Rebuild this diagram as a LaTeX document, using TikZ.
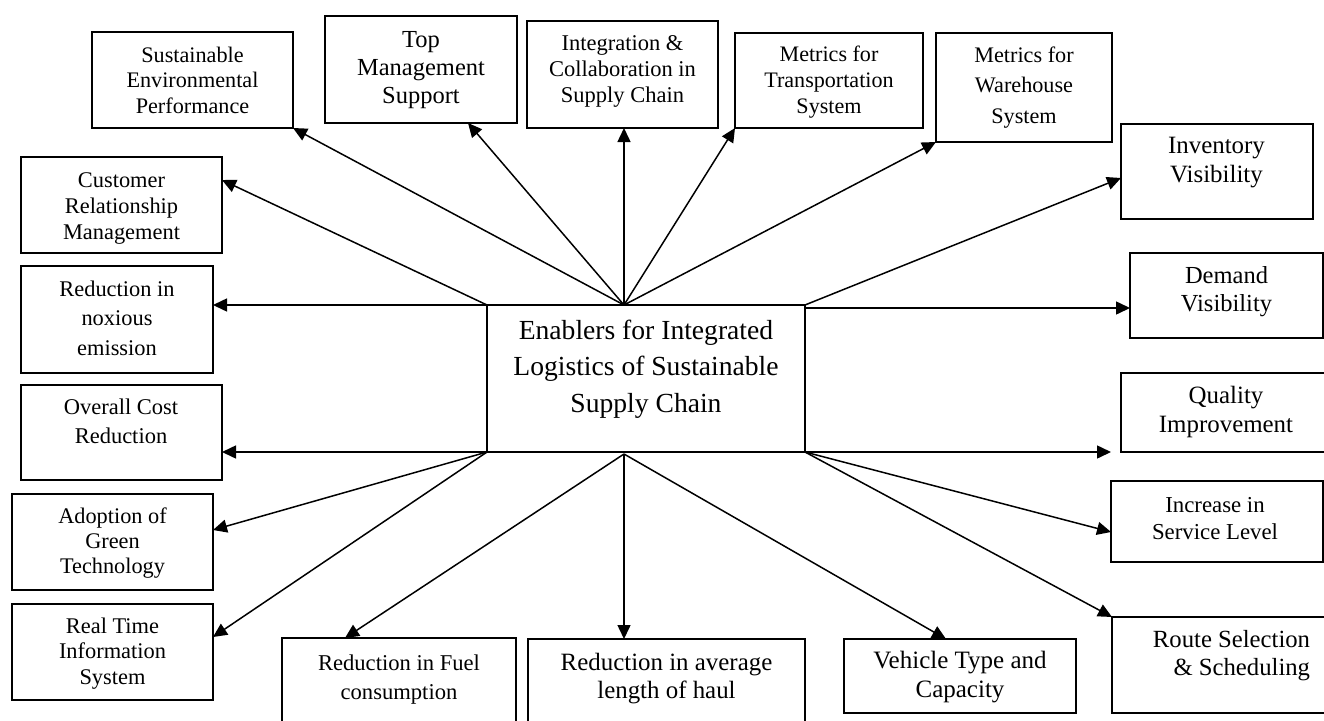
\documentclass[tikz,border=0pt]{standalone}
\usepackage{fontspec}
\setmainfont{Liberation Serif}
\usetikzlibrary{arrows.meta,fit}
\newcommand\fsz[2]{\fontsize{#1}{#2}\selectfont}
\begin{document}
\begin{tikzpicture}[x=1pt,y=-1pt,
  box/.style={draw,line width=1.8pt,inner sep=0pt,outer sep=0pt},
  txt/.style={align=center,inner sep=0pt,outer sep=0pt},
  arr/.style={line width=1.5pt,-{Triangle[length=14pt,width=13pt]}}]
\fill[white] (0,0) rectangle (1324,720);
\clip (0,0) rectangle (1324,720);

% central box
\node[box,fit={(487,305) (805,452)}] (cen) {};
\node[txt,font=\fsz{27.6}{36.5}] (cen-t) at (646,368.5)
  {\strut Enablers for Integrated\\Logistics of Sustainable\\Supply Chain\strut};

% top row
\node[box,fit={(92,32) (293,128)}] (sep) {};
\node[txt,font=\fsz{22.2}{25.5}] (sep-t) at (192.5,82.5)
  {\strut Sustainable\\Environmental\\Performance\strut};
\node[box,fit={(325,16) (517,123)}] (top) {};
\node[txt,font=\fsz{24.5}{28}] (top-t) at (421,70)
  {\strut Top\\Management\\Support\strut};
\node[box,fit={(527,21) (718,128)}] (integ) {};
\node[txt,font=\fsz{22.5}{26}] (integ-t) at (622.5,71)
  {\strut Integration \&\\Collaboration in\\Supply Chain\strut};
\node[box,fit={(735,33) (923,128)}] (mtrans) {};
\node[txt,font=\fsz{22.1}{26}] (mtrans-t) at (829,82)
  {\strut Metrics for\\Transportation\\System\strut};
\node[box,fit={(936,33) (1112,142)}] (mware) {};
\node[txt,font=\fsz{22.2}{30.5}] (mware-t) at (1024,86.5)
  {\strut Metrics for\\Warehouse\\System\strut};

% right column
\node[box,fit={(1121,124) (1313,219)}] (inv) {};
\node[txt,font=\fsz{24.9}{29}] (inv-t) at (1216.5,162.5)
  {\strut Inventory\\Visibility\strut};
\node[box,fit={(1130,253) (1323,338)}] (dem) {};
\node[txt,font=\fsz{24.5}{28}] (dem-t) at (1226.5,292)
  {\strut Demand\\Visibility\strut};
\node[box,fit={(1121,373) (1331,452)}] (qual) {};
\node[txt,font=\fsz{24.9}{29}] (qual-t) at (1226,412.5)
  {\strut Quality\\Improvement\strut};
\node[box,fit={(1111,481) (1323,562)}] (serv) {};
\node[txt,font=\fsz{22.8}{27}] (serv-t) at (1215,520.5)
  {\strut Increase in\\Service Level\strut};
\node[box,fit={(1112,617) (1351,713)}] (route) {};
\node[txt,align=right,font=\fsz{24.7}{28}] (route-t) at (1231.5,656)
  {\strut Route Selection\\\& Scheduling\strut};

% bottom row
\node[box,fit={(844,639) (1076,713)}] (veh) {};
\node[txt,font=\fsz{25}{29}] (veh-t) at (960,677.5)
  {\strut Vehicle Type and\\Capacity\strut};
\node[box,fit={(528,639) (805,740)}] (haul) {};
\node[txt,font=\fsz{24.9}{28}] (haul-t) at (666.5,679)
  {\strut Reduction in average\\length of haul\strut};
\node[box,fit={(282,638) (516,740)}] (fuel) {};
\node[txt,font=\fsz{22.6}{29}] (fuel-t) at (399,679)
  {\strut Reduction in Fuel\\consumption\strut};

% left column
\node[box,fit={(12,604) (213,700)}] (rts) {};
\node[txt,font=\fsz{22.4}{25.5}] (rts-t) at (112.5,653.5)
  {\strut Real Time\\Information\\System\strut};
\node[box,fit={(12,494) (213,590)}] (green) {};
\node[txt,font=\fsz{22.3}{25}] (green-t) at (112.5,543)
  {\strut Adoption of\\Green\\Technology\strut};
\node[box,fit={(21,385) (222,480)}] (cost) {};
\node[txt,font=\fsz{22.5}{29}] (cost-t) at (121,423.5)
  {\strut Overall Cost\\Reduction\strut};
\node[box,fit={(21,266) (213,373)}] (nox) {};
\node[txt,font=\fsz{22.4}{29.5}] (nox-t) at (117,319.7)
  {\strut Reduction in\\noxious\\emission\strut};
\node[box,fit={(21,157) (222,253)}] (crm) {};
\node[txt,font=\fsz{22.4}{26}] (crm-t) at (121.5,208.7)
  {\strut Customer\\Relationship\\Management\strut};

% connector origins on the central box
\coordinate (ctop) at (624,305);
\coordinate (cbot) at (624,454);
\coordinate (qtip) at (1111,452);

% connectors
\draw[arr] (ctop) -- (sep.south east);
\draw[arr] (ctop) -- (468,0 |- top.south);
\draw[arr] (ctop) -- (624,0 |- integ.south);
\draw[arr] (ctop) -- (mtrans.south west);
\draw[arr] (ctop) -- (mware.south west);
\draw[arr] (cen.north west) -- (crm.east |- 0,180);
\draw[arr] (cen.north west) -- (nox.east |- cen.north west);
\draw[arr] (cen.south west) -- (cost.east |- cen.south west);
\draw[arr] (cen.south west) -- (green.east |- 0,530);
\draw[arr] (cen.south west) -- (rts.east |- 0,637);
\draw[arr] (cbot) -- (345,0 |- fuel.north);
\draw[arr] (cbot) -- (624,0 |- haul.north);
\draw[arr] (cbot) -- (946,0 |- veh.north);
\draw[arr] (cen.north east) -- (inv.west |- 0,178);
\draw[arr] (cen.east |- 0,308) -- (dem.west |- 0,308);
\draw[arr] (cen.south east) -- (qtip);
\draw[arr] (cen.south east) -- (serv.west |- 0,532);
\draw[arr] (cen.south east) -- (route.north west);
\end{tikzpicture}
\end{document}
